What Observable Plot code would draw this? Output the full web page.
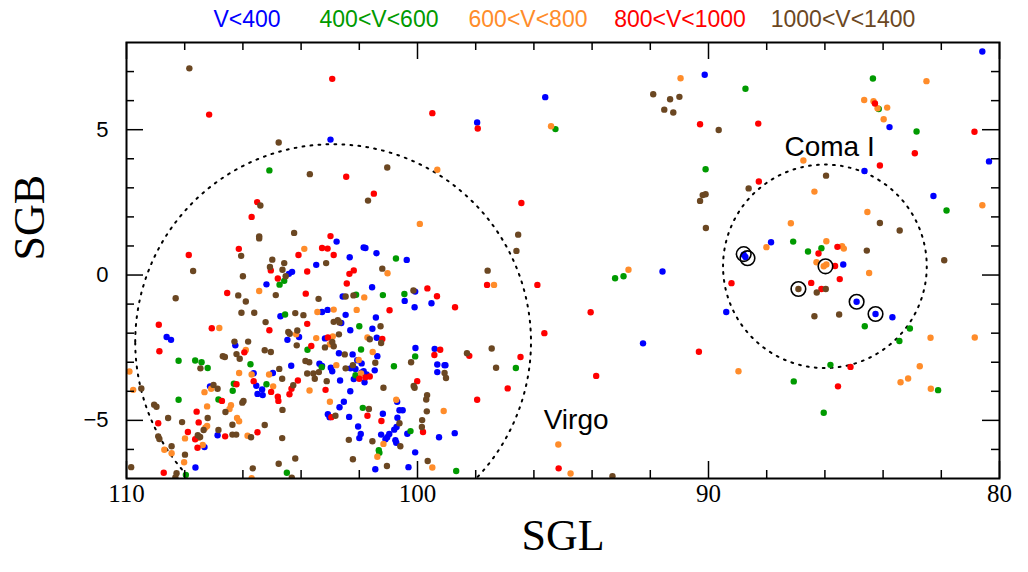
<!DOCTYPE html>
<html>
<head>
<meta charset="utf-8">
<script src="https://cdn.jsdelivr.net/npm/d3@7"></script>
<script src="https://cdn.jsdelivr.net/npm/@observablehq/plot@0.6"></script>
<style>
  html, body { margin: 0; padding: 0; background: #fff; }
  #wrap { width: 1028px; height: 572px; position: relative; overflow: hidden; }
  #legend { position: relative; width: 1028px; height: 32px; font-family: "Liberation Sans", Arial, sans-serif; font-size: 23px; line-height: 1; }
  #legend span { position: absolute; top: 8px; transform: translateX(-50%); white-space: nowrap; }
  svg { display: block; }
</style>
</head>
<body>
<div id="wrap">
  <div id="legend"></div>
  <div id="chart"></div>
</div>
<script>
// ---- Legend / classes ----
const classNames = ["V<400", "400<V<600", "600<V<800", "800<V<1000", "1000<V<1400"];
const classColors = ["#0000ff", "#009a00", "#ff8c2a", "#ff0000", "#6b4722"];
const legendCenters = [247, 379, 528, 680, 843];

// ---- Galaxies: [SGL, SGB] per velocity class ----
const velLt400 = [
[102.99,4.66],[102.78,1.15],[103.48,0.35],[104.42,0.04],[104.31,0.11],[105.19,-0.32],[104.71,-1.42],
[103.28,-1.27],[103.09,-1.20],[104.07,-2.13],[104.47,-2.23],[108.62,-2.13],[108.47,-2.23],[106.26,-2.42],
[103.18,-2.18],[104.34,-3.12],[103.37,-3.05],[103.28,-3.13],[102.98,-3.19],[102.93,-3.31],[105.63,-3.38],
[105.54,-3.81],[104.97,-3.37],[105.34,-3.94],[105.50,-4.09],[105.32,-4.13],[107.13,-3.83],[106.87,-5.51],
[107.32,-5.92],[107.63,-6.62],[97.95,5.25],[102.33,0.61],[101.85,0.95],[101.79,0.93],[101.41,0.75],
[100.37,0.52],[101.56,-0.42],[102.57,-0.74],[100.08,-0.57],[100.44,-0.89],[99.52,-0.97],[100.10,-1.11],
[102.47,-1.37],[101.43,-1.46],[102.62,-1.65],[101.55,-1.85],[102.31,-1.90],[101.40,-2.16],[100.07,-2.51],
[99.41,-2.54],[102.70,-2.69],[102.23,-2.73],[101.38,-2.79],[102.07,-2.93],[101.92,-3.04],[101.47,-3.28],
[102.30,-3.21],[102.13,-3.23],[101.85,-3.31],[101.75,-3.42],[101.92,-3.35],[102.19,-3.58],[101.82,-3.69],
[102.66,-3.63],[99.32,-3.08],[99.07,-3.10],[99.04,-3.10],[99.32,-3.34],[102.31,-4.00],[102.53,-4.36],
[102.68,-4.55],[100.70,-4.36],[100.62,-4.65],[100.51,-4.65],[103.08,-4.79],[103.02,-4.89],[102.35,-4.88],
[101.19,-4.77],[100.69,-4.91],[102.04,-5.21],[100.72,-5.23],[100.80,-5.32],[100.35,-5.46],[101.95,-5.47],
[102.00,-5.61],[101.25,-5.49],[101.04,-5.58],[100.97,-5.47],[101.10,-5.65],[99.26,-5.58],[98.72,-5.44],
[100.76,-5.68],[100.73,-5.77],[100.08,-6.10],[101.45,-6.68],[100.31,-6.61],[95.61,6.12],[90.13,6.89],
[91.58,0.12],[92.25,-2.35],[89.39,-1.27],[80.59,7.69],[83.78,5.09],[80.36,3.91],[84.64,3.58],[82.27,2.72],
[87.85,1.13],[85.37,0.36],[83.68,-1.45],[88.79,0.70],[88.73,0.62],[84.91,-0.92],[84.26,-1.34]
];
const vel400to600 = [
[105.09,3.60],[104.58,-0.20],[104.74,-0.33],[104.55,-1.36],[103.78,-2.57],[108.21,-2.95],[107.64,-2.94],
[107.42,-3.00],[107.21,-3.20],[105.74,-3.07],[103.29,-3.17],[105.19,-3.76],[106.31,-3.74],[106.35,-3.98],
[106.84,-4.28],[108.21,-4.29],[107.96,-6.88],[104.49,-6.80],[100.74,0.57],[102.11,-0.68],[101.19,-0.69],
[100.45,-0.65],[102.00,-1.76],[101.94,-2.56],[100.08,-2.80],[102.13,-3.45],[100.81,-3.14],[101.88,-4.57],
[100.24,-5.37],[101.33,-6.03],[101.31,-6.11],[98.67,-6.74],[96.62,-3.20],[95.26,5.02],[90.10,3.64],
[93.21,-0.11],[92.92,-0.04],[84.35,6.76],[88.73,6.41],[84.15,5.71],[82.85,4.94],[81.82,2.22],[87.09,1.15],
[86.58,0.81],[86.12,0.92],[84.63,-1.76],[83.08,-1.84],[83.44,-2.27],[85.81,-3.09],[87.07,-3.66],
[82.11,-3.96],[86.04,-4.74]
];
const vel600to800 = [
[103.89,0.90],[105.44,-0.55],[103.44,-1.27],[102.88,-1.19],[106.81,-1.82],[104.17,-2.04],[103.48,-2.17],
[103.01,-2.38],[105.90,-2.58],[109.90,-3.32],[106.13,-3.37],[105.70,-3.42],[105.10,-3.42],[104.96,-3.83],
[103.71,-3.97],[103.01,-4.36],[107.09,-3.91],[107.32,-4.03],[106.41,-4.48],[106.46,-4.61],[107.23,-4.52],
[106.20,-4.92],[106.13,-5.03],[107.23,-5.19],[107.29,-5.25],[107.52,-5.60],[105.84,-5.53],[107.99,-5.62],
[107.38,-5.85],[108.70,-6.01],[108.45,-6.13],[108.02,-6.44],[105.70,-6.99],[109.77,-3.95],[99.32,3.62],
[99.92,1.76],[101.03,0.06],[97.37,-0.34],[101.83,-0.77],[102.09,-1.20],[102.91,-2.11],[101.72,-2.15],
[101.54,-2.65],[102.02,-2.92],[102.79,-3.10],[101.94,-3.39],[100.73,-4.29],[99.10,-4.68],[101.17,-5.81],
[101.38,-6.25],[99.49,-6.62],[95.41,5.12],[90.96,6.77],[92.75,0.18],[95.16,-5.83],[94.74,-6.83],
[82.51,6.67],[84.65,6.02],[84.33,5.98],[84.19,5.74],[83.86,5.76],[83.98,5.36],[86.74,3.94],[86.36,2.87],
[80.59,2.40],[84.54,2.17],[87.17,1.78],[88.01,0.96],[85.95,1.16],[85.41,0.99],[85.35,0.91],[86.29,0.44],
[86.04,0.30],[85.95,0.36],[84.48,0.07],[88.97,-3.31],[82.37,-2.16],[80.85,-2.15],[82.74,-3.14],
[83.14,-3.56],[83.40,-3.69],[82.36,-3.91]
];
const vel800to1000 = [
[102.93,6.75],[107.16,5.52],[105.51,2.51],[105.70,2.00],[102.99,1.34],[107.86,0.69],[106.14,0.90],
[104.09,0.69],[103.28,0.93],[103.09,0.91],[102.88,0.69],[105.04,0.16],[103.79,0.12],[104.80,-0.12],
[106.54,-0.62],[103.84,-0.64],[108.89,-1.71],[107.07,-1.83],[105.09,-1.90],[103.79,-1.68],[108.87,-2.62],
[105.95,-2.66],[103.65,-2.44],[103.08,-2.15],[105.63,-3.65],[104.11,-3.63],[105.03,-4.02],[104.80,-4.19],
[104.78,-4.33],[104.40,-4.10],[104.33,-3.91],[103.16,-3.95],[106.22,-3.76],[106.72,-4.33],[107.59,-4.70],
[108.91,-5.10],[107.52,-5.07],[107.89,-5.40],[107.64,-5.65],[106.61,-5.55],[105.50,-5.41],[107.56,-5.94],
[108.72,-6.80],[99.49,5.57],[97.93,5.04],[102.45,3.38],[101.50,2.80],[96.43,2.48],[102.34,0.04],
[102.19,0.16],[102.43,-0.29],[97.61,-0.34],[95.88,-0.34],[99.66,-0.46],[99.33,-0.73],[98.71,-1.11],
[100.96,-1.21],[101.21,-2.20],[99.22,-2.57],[99.42,-2.75],[98.22,-2.78],[96.46,-2.82],[101.79,-3.52],
[101.64,-3.49],[102.00,-3.57],[100.01,-3.65],[96.90,-3.90],[97.95,-4.29],[102.96,-4.89],[101.72,-4.84],
[101.24,-5.02],[99.81,-5.40],[94.05,-1.28],[95.64,-2.00],[90.33,-2.64],[93.86,-3.47],[95.15,-6.65],
[89.21,-0.28],[90.29,5.19],[88.29,5.21],[84.28,5.90],[80.86,4.93],[82.91,4.19],[84.11,3.77],[88.27,3.22],
[86.22,0.74],[85.57,0.97],[85.65,0.31],[85.49,-0.14],[86.47,-0.27],[86.12,-0.48],[85.12,-3.16],[85.55,-3.83]
];
const vel1000to1400 = [
[107.84,7.11],[104.77,4.56],[103.70,3.47],[105.40,2.39],[105.44,1.33],[105.44,1.26],[104.24,1.45],
[106.06,0.66],[104.99,0.53],[104.58,0.41],[103.14,0.41],[105.07,0.28],[104.64,0.18],[107.71,0.14],
[106.00,-0.04],[104.53,-0.04],[108.31,-0.80],[106.16,-0.70],[105.90,-0.91],[104.87,-0.69],[103.40,-0.82],
[106.05,-1.30],[105.61,-1.30],[104.20,-1.31],[103.92,-1.38],[102.88,-1.61],[105.22,-1.62],[104.44,-1.96],
[104.39,-2.02],[104.13,-1.91],[106.29,-2.29],[105.82,-2.29],[106.22,-2.72],[106.11,-2.88],[106.69,-2.79],
[106.62,-2.82],[105.25,-2.59],[105.04,-2.65],[104.15,-2.42],[103.18,-2.49],[102.88,-2.45],[107.46,-3.21],
[104.75,-3.23],[103.85,-2.96],[103.72,-3.00],[103.79,-3.39],[103.58,-3.39],[103.39,-3.34],[103.53,-3.57],
[103.12,-3.65],[104.65,-3.57],[104.27,-3.79],[107.01,-3.78],[106.87,-3.91],[105.98,-4.33],[106.02,-4.39],
[106.60,-4.71],[109.05,-4.46],[108.97,-4.53],[108.57,-4.92],[108.09,-5.06],[107.21,-4.92],[106.36,-5.15],
[105.25,-5.16],[107.35,-5.33],[108.91,-5.55],[108.87,-5.64],[107.55,-5.51],[107.47,-5.57],[106.84,-5.33],
[106.36,-5.49],[106.23,-5.49],[105.72,-5.58],[104.65,-5.61],[108.45,-5.89],[107.99,-6.18],[109.84,-6.61],
[108.28,-6.82],[108.32,-6.96],[105.66,-6.65],[104.77,-6.49],[104.32,-6.97],[104.20,-6.31],[109.49,-3.90],
[104.64,-4.64],[101.04,3.70],[101.70,2.56],[96.54,1.39],[96.60,0.83],[101.21,0.22],[97.59,0.15],
[102.47,-0.74],[102.20,-0.70],[100.14,-0.53],[102.74,-1.55],[102.68,-1.63],[101.27,-1.76],[102.70,-2.04],
[101.64,-2.21],[101.25,-2.34],[102.93,-2.30],[98.30,-2.69],[97.45,-2.53],[102.50,-2.73],[101.45,-3.02],
[102.47,-3.21],[102.22,-3.10],[100.22,-3.00],[99.07,-3.37],[99.02,-3.54],[97.30,-3.19],[100.13,-3.82],
[100.10,-3.88],[101.17,-3.88],[99.67,-4.13],[99.70,-4.28],[101.67,-4.61],[102.82,-4.84],[99.68,-4.69],
[100.62,-5.10],[99.84,-4.99],[99.85,-5.23],[102.36,-5.67],[101.55,-5.72],[100.59,-5.89],[102.22,-6.34],
[99.65,-6.40],[101.05,-6.57],[93.30,-6.92],[91.90,6.22],[91.32,6.05],[91.00,6.13],[91.52,5.69],
[91.21,5.59],[89.65,4.99],[90.20,2.75],[90.10,2.78],[90.29,2.55],[90.09,1.62],[85.96,3.42],[88.62,2.98],
[84.11,1.79],[83.43,1.53],[84.56,0.84],[81.90,0.51],[85.97,-0.48],[86.28,-0.60],[86.36,-1.42],
[85.51,-1.36],[86.91,-0.48]
];

// ---- Circled galaxies ----
const circledSGL = [88.79, 88.66, 85.98, 86.91, 84.91, 84.26];
const circledSGB = [0.72, 0.58, 0.30, -0.48, -0.92, -1.34];

// ---- Cluster regions (dotted circles): centre SGL, SGB, radius (deg) ----
const clusterNames = ["Virgo", "Coma I"];
const clusterSGL = [102.9, 86.0];
const clusterSGB = [-2.3, 0.3];
const clusterRadius = [6.8, 3.5];
const labelSGL = [94.55, 85.84];
const labelSGB = [-5.3, 4.08];

// ---- Axis ticks ----
const xMajorTicks = [110, 100, 90, 80];
const xMinorTicks = [108, 106, 104, 102, 98, 96, 94, 92, 88, 86, 84, 82];
const yMajorTicks = [-5, 0, 5];
const yMinorTicks = [-6, -4, -3, -2, -1, 1, 2, 3, 4, 6, 7];

// ---- Build tables ----
const classData = [velLt400, vel400to600, vel600to800, vel800to1000, vel1000to1400];
const points = [];
classData.forEach((arr, i) => arr.forEach(([sgl, sgb]) => points.push({sgl, sgb, cls: classNames[i]})));
const circled = circledSGL.map((s, i) => ({sgl: s, sgb: circledSGB[i]}));
const circlePaths = [];
clusterNames.forEach((name, i) => {
  for (let k = 0; k <= 360; k++) {
    const a = k * Math.PI / 180;
    circlePaths.push({name, sgl: clusterSGL[i] + clusterRadius[i] * Math.cos(a), sgb: clusterSGB[i] + clusterRadius[i] * Math.sin(a)});
  }
});
const labels = clusterNames.map((n, i) => ({name: n, sgl: labelSGL[i], sgb: labelSGB[i]}));

// ---- Legend ----
const legend = document.getElementById("legend");
classNames.forEach((n, i) => {
  const s = document.createElement("span");
  s.textContent = n;
  s.style.color = classColors[i];
  s.style.left = legendCenters[i] + "px";
  legend.appendChild(s);
});

// ---- Plot ----
const W = 1028, H = 540, mT = 10, mB = 94, mL = 126, mR = 29;
const innerH = H - mT - mB, innerW = W - mL - mR;
const serif = "'Liberation Serif', 'DejaVu Serif', serif";
const sans = "'Liberation Sans', Arial, sans-serif";

const chart = Plot.plot({
  width: W, height: H,
  marginTop: mT, marginBottom: mB, marginLeft: mL, marginRight: mR,
  x: {domain: [110, 80], axis: null},
  y: {domain: [-7, 8], axis: null},
  color: {domain: classNames, range: classColors},
  style: {fontFamily: sans, background: "white", overflow: "visible"},
  marks: [
    Plot.line(circlePaths, {x: "sgl", y: "sgb", z: "name", stroke: "black", strokeWidth: 2, strokeDasharray: "1.8,6.2", clip: true}),
    Plot.dot(points, {x: "sgl", y: "sgb", fill: "cls", r: 3.2, clip: true}),
    Plot.dot(circled, {x: "sgl", y: "sgb", r: 7.3, stroke: "black", strokeWidth: 1.6, fill: "none"}),
    Plot.frame({strokeWidth: 2}),
    // inward ticks
    Plot.tickX(xMinorTicks, {x: d => d, insetTop: innerH - 8, strokeWidth: 1.5}),
    Plot.tickX(xMinorTicks, {x: d => d, insetBottom: innerH - 8, strokeWidth: 1.5}),
    Plot.tickX(xMajorTicks, {x: d => d, insetTop: innerH - 17, strokeWidth: 1.5}),
    Plot.tickX(xMajorTicks, {x: d => d, insetBottom: innerH - 17, strokeWidth: 1.5}),
    Plot.tickY(yMinorTicks, {y: d => d, insetRight: innerW - 8, strokeWidth: 1.5}),
    Plot.tickY(yMinorTicks, {y: d => d, insetLeft: innerW - 8, strokeWidth: 1.5}),
    Plot.tickY(yMajorTicks, {y: d => d, insetRight: innerW - 17, strokeWidth: 1.5}),
    Plot.tickY(yMajorTicks, {y: d => d, insetLeft: innerW - 17, strokeWidth: 1.5}),
    // tick labels
    Plot.text(xMajorTicks, {x: d => d, frameAnchor: "bottom", dy: 23, text: d => String(d), fontSize: 25, fontFamily: serif}),
    Plot.text(yMajorTicks, {y: d => d, frameAnchor: "left", dx: -18, textAnchor: "end", text: d => d < 0 ? "\u2212" + (-d) : String(d), fontSize: 22, fontFamily: sans}),
    // axis titles
    Plot.text(["SGL"], {frameAnchor: "bottom", dy: 71, text: d => d, fontSize: 44, fontFamily: serif}),
    Plot.text(["SGB"], {frameAnchor: "left", dx: -97, rotate: -90, text: d => d, fontSize: 44, fontFamily: serif}),
    // cluster labels
    Plot.text(labels, {x: "sgl", y: "sgb", text: "name", fontSize: 28, fontFamily: sans, lineAnchor: "bottom"})
  ]
});
document.getElementById("chart").appendChild(chart);
</script>
</body>
</html>
